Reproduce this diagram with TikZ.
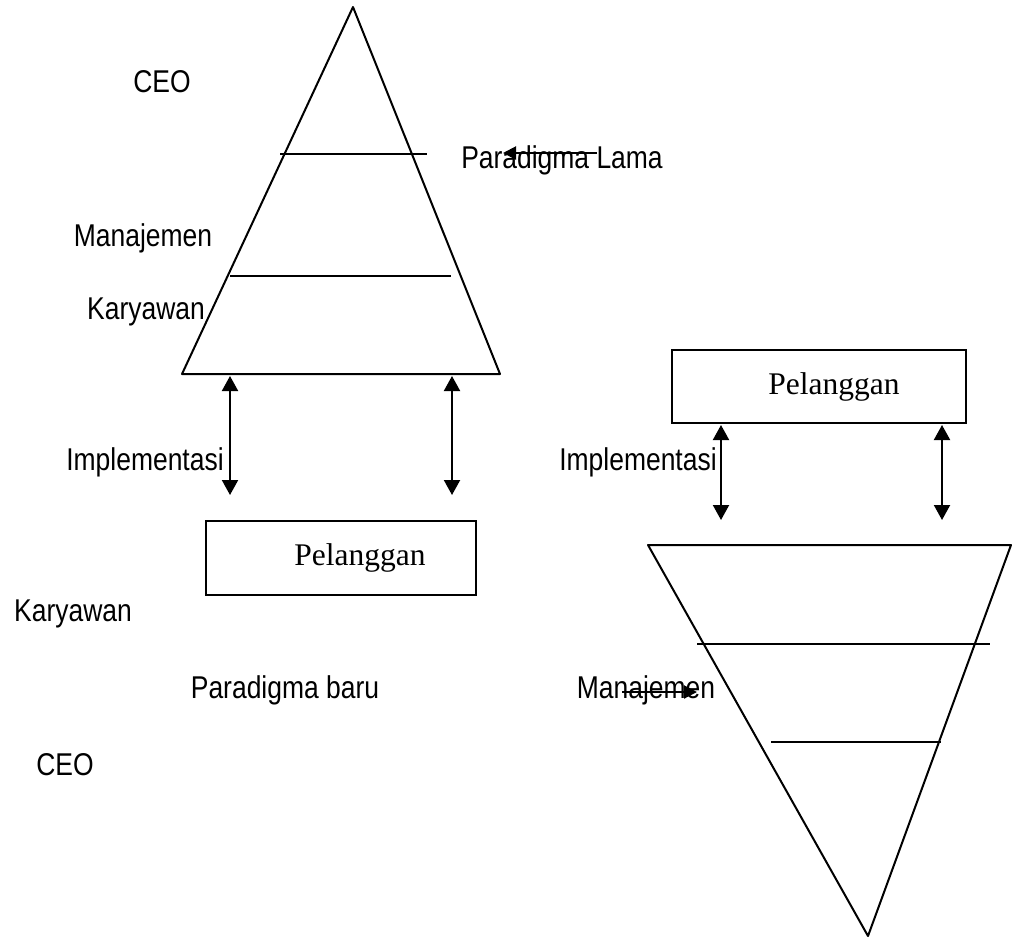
\documentclass[tikz,border=0pt]{standalone}
\usepackage{fontspec}
\setmainfont{Liberation Serif}
\newfontfamily\lblfont{Liberation Sans}
\usepackage{tikz}
\usetikzlibrary{arrows.meta,positioning,calc}

\tikzset{
  lbl/.style={inner sep=0pt,xscale=0.84,font=\lblfont\fontsize{31.5}{34}\selectfont},
  boxnode/.style={draw,line width=2pt,minimum width=270pt,minimum height=74pt,inner sep=0pt},
  boxtext/.style={font=\fontsize{31.5}{36}\selectfont},
  biarrow/.style={line width=2pt,{Triangle[length=15pt,width=16pt]}-{Triangle[length=15pt,width=16pt]}},
  ptr/.style={line width=2pt,-{Triangle[length=13pt,width=13pt]}}
}

\begin{document}
\begin{tikzpicture}[x=1pt,y=-1pt,line width=2pt]
  \useasboundingbox (0,0) rectangle (1012,938);
  % paradigma lama
  \coordinate (top) at (353,7);
  \coordinate (bl) at (182,374);
  \coordinate (br) at (500,374);
  \draw[line join=round] (bl) -- (top) -- (br) -- cycle;
  \draw (280,154) -- (427,154);
  \draw (230,276) -- (451,276);
  \node[lbl] (ceo1) at (162,82) {CEO};
  \node[lbl] (man1) at (143,238) {Manajemen};
  \node[lbl] (kar1) at (146,312) {Karyawan};
  \node[lbl] (lama) at (562,160) {Paradigma Lama};
  \coordinate (lamaS) at (597,153);
  \coordinate (lamaE) at (503,153);
  \draw[ptr] (lamaS) -- (lamaE);
  \coordinate (a1s) at (230,376);
  \coordinate (a1e) at (230,495);
  \coordinate (a2s) at (452,376);
  \coordinate (a2e) at (452,495);
  \draw[biarrow] (a1s) -- (a1e);
  \draw[biarrow] (a2s) -- (a2e);
  \node[lbl] (imp1) at (145,462) {Implementasi};
  \node[boxnode,label={[boxtext,xshift=19pt]center:Pelanggan}] (pel1) at (341,558) {};
  \node[lbl] (kar2) at (73,614) {Karyawan};
  \node[lbl] (baru) at (285,690) {Paradigma baru};
  \node[lbl] (ceo2) at (65,765) {CEO};
  % paradigma baru
  \node[boxnode,minimum width=294pt,minimum height=73pt,label={[boxtext,xshift=15pt]center:Pelanggan}] (pel2) at (819,386.5) {};
  \coordinate (a3s) at (721,425);
  \coordinate (a3e) at (721,520);
  \coordinate (a4s) at (942,425);
  \coordinate (a4e) at (942,520);
  \draw[biarrow] (a3s) -- (a3e);
  \draw[biarrow] (a4s) -- (a4e);
  \node[lbl] (imp2) at (638,462) {Implementasi};
  \coordinate (tl) at (648,545);
  \coordinate (tr) at (1011,545);
  \coordinate (bot) at (868,936);
  \draw[line join=round] (tl) -- (tr) -- (bot) -- cycle;
  \draw (697,644) -- (990,644);
  \draw (771,742) -- (941,742);
  \node[lbl] (man2) at (646,690) {Manajemen};
  \coordinate (manS) at (622,692);
  \coordinate (manE) at (697,692);
  \draw[ptr] (manS) -- (manE);
\end{tikzpicture}
\end{document}
